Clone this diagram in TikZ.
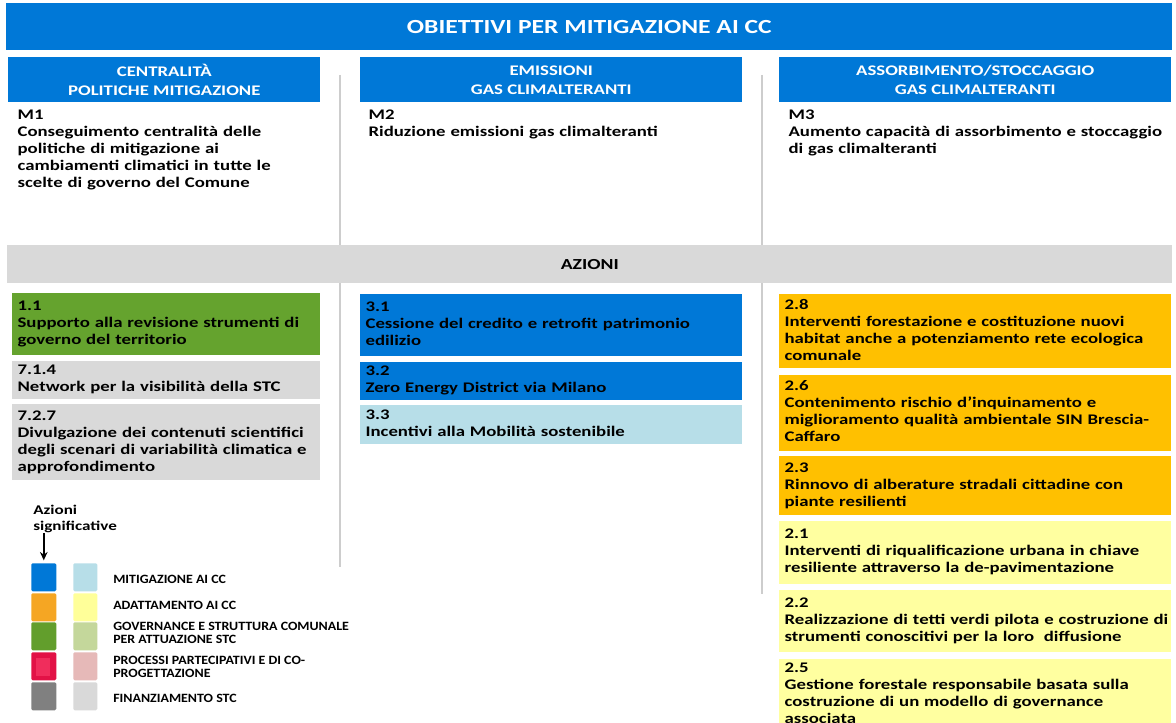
\documentclass[tikz,border=0pt]{standalone}
\usepackage{fontspec}
\setmainfont{Carlito}[FakeStretch=1.28]
\newfontfamily\keyfont{Carlito}[FakeStretch=1.1]
\usepackage{xcolor}
\usetikzlibrary{positioning,arrows.meta}
\definecolor{ccblue}{RGB}{0,120,215}
\definecolor{cclblue}{RGB}{183,222,232}
\definecolor{ccgreen}{RGB}{101,163,46}
\definecolor{ccorange}{RGB}{255,192,0}
\definecolor{cclyellow}{RGB}{255,255,160}
\definecolor{ccgray}{RGB}{217,217,217}
\definecolor{ccline}{RGB}{205,205,205}
\definecolor{keyorange}{RGB}{245,166,35}
\definecolor{keylyellow}{RGB}{255,255,153}
\definecolor{keygreen}{RGB}{98,158,44}
\definecolor{keylgreen}{RGB}{196,215,155}
\definecolor{keyred}{RGB}{226,18,70}
\definecolor{keyredin}{RGB}{240,45,92}
\definecolor{keypink}{RGB}{230,185,184}
\definecolor{keydgray}{RGB}{128,128,128}
\tikzset{
    cctitle/.style={anchor=north west, fill=ccblue, text=white, font=\bfseries\fontsize{15}{18}\selectfont, minimum width=874.5pt, minimum height=35.25pt, inner sep=0pt},
    cchead/.style={anchor=north west, fill=ccblue, text=white, align=center, font=\bfseries\fontsize{11}{14.25}\selectfont, minimum height=33.75pt, inner sep=0pt},
    ccgoal/.style={anchor=north west, align=left, font=\bfseries\fontsize{11}{12.75}\selectfont, inner xsep=4pt, inner ysep=1pt},
    ccbar/.style={anchor=north west, fill=ccgray, font=\bfseries\fontsize{11.5}{14}\selectfont, minimum width=873.75pt, minimum height=28.5pt, inner sep=0pt},
    ccbox/.style={anchor=north west, align=left, font=\bfseries\fontsize{11}{12.75}\selectfont, inner xsep=4pt, inner ysep=1pt},
    colone/.style={ccbox, text width=223pt},
    coltwo/.style={ccbox, text width=278.5pt},
    colthree/.style={ccbox, text width=286pt},
    ccsep/.style={draw=ccline, line width=1.2pt},
    ccdark/.style={anchor=north west, minimum width=18.75pt, minimum height=21pt, inner sep=0pt, rounded corners=1pt},
    cclight/.style={anchor=north west, minimum width=18pt, minimum height=21pt, inner sep=0pt, rounded corners=1pt},
    cckey/.style={anchor=west, align=left, font=\keyfont\bfseries\fontsize{9.5}{9.5}\selectfont, inner sep=0pt},
    cckeyarrow/.style={draw, -{Stealth[length=2.2mm, width=2mm]}, line width=1.1pt, shorten >=2pt}
}

\begin{document}
\begin{tikzpicture}[x=0.75pt, y=-0.75pt]
    \useasboundingbox (0,0) rectangle (1176,723);
    \fill[white] (0,0) rectangle (1176,723);
    \clip (0,0) rectangle (1176,723);

    \draw[ccsep] (340,75) -- (340,567);
    \draw[ccsep] (762,75) -- (762,594);

    \node[cctitle] (title) at (6,3) {OBIETTIVI PER MITIGAZIONE AI CC};
    \node[cchead, minimum width=234pt] (hcent) at (8,57) {CENTRALITÀ\\POLITICHE MITIGAZIONE};
    \node[cchead, minimum width=286.5pt] (hemis) at (360,57) {EMISSIONI\\GAS CLIMALTERANTI};
    \node[cchead, minimum width=294pt] (hass) at (779,57) {ASSORBIMENTO/STOCCAGGIO\\GAS CLIMALTERANTI};

    \node[ccgoal, text width=225pt] (mone) at (12,106) {\strut M1\\Conseguimento centralità delle\\politiche di mitigazione ai\\cambiamenti climatici in tutte le\\scelte di governo del Comune\strut};
    \node[ccgoal, text width=278pt] (mtwo) at (363,106) {\strut M2\\Riduzione emissioni gas climalteranti\strut};
    \node[ccgoal, text width=288pt] (mthree) at (783,106) {\strut M3\\Aumento capacità di assorbimento e stoccaggio\\di gas climalteranti\strut};

    \node[ccbar] (azioni) at (7,245) {AZIONI};

    % colonna centralita
    \node[colone, fill=ccgreen, minimum height=46.5pt] (a11) at (12,293) {\strut 1.1\\Supporto alla revisione strumenti di\\governo del territorio\strut};
    \node[colone, fill=ccgray, minimum height=28.5pt, below=3.75pt of a11] (a714) {\strut 7.1.4\\Network per la visibilità della STC\strut};
    \node[colone, fill=ccgray, minimum height=57pt, below=3.75pt of a714] (a727) {\strut 7.2.7\\Divulgazione dei contenuti scientifici\\degli scenari di variabilità climatica e\\approfondimento\strut};

    % colonna emissioni
    \node[coltwo, fill=ccblue, minimum height=46.5pt] (a31) at (360,294) {\strut 3.1\\Cessione del credito e retrofit patrimonio\\edilizio\strut};
    \node[coltwo, fill=ccblue, minimum height=28.5pt, below=3.75pt of a31] (a32) {\strut 3.2\\Zero Energy District via Milano\strut};
    \node[coltwo, fill=cclblue, minimum height=29.25pt, below=3.75pt of a32] (a33) {\strut 3.3\\Incentivi alla Mobilità sostenibile\strut};

    % colonna assorbimento
    \node[colthree, fill=ccorange, minimum height=55.5pt] (a28) at (779,294) {\strut 2.8\\Interventi forestazione e costituzione nuovi\\habitat anche a potenziamento rete ecologica\\comunale\strut};
    \node[colthree, fill=ccorange, minimum height=57pt, below=4.5pt of a28] (a26) {\strut 2.6\\Contenimento rischio d’inquinamento e\\miglioramento qualità ambientale SIN Brescia-\\Caffaro\strut};
    \node[colthree, fill=ccorange, minimum height=44.25pt, below=3.75pt of a26] (a23) {\strut 2.3\\Rinnovo di alberature stradali cittadine con\\piante resilienti\strut};
    \node[colthree, fill=cclyellow, minimum height=47.25pt, below=3.75pt of a23] (a21) {\strut 2.1\\Interventi di riqualificazione urbana in chiave\\resiliente attraverso la de-pavimentazione\strut};
    \node[colthree, fill=cclyellow, minimum height=46.5pt, below=4.5pt of a21] (a22) {\strut 2.2\\\mbox{Realizzazione di tetti verdi pilota e costruzione di}\\strumenti conoscitivi per la loro\ \ diffusione\strut};
    \node[colthree, fill=cclyellow, below=4.5pt of a22] (a25) {\strut 2.5\\Gestione forestale responsabile basata sulla\\costruzione di un modello di governance\\associata\strut};

    % legenda
    \node[anchor=north west, align=left, inner sep=0pt, font=\bfseries\fontsize{10}{12}\selectfont] (azsig) at (33,505) {Azioni\\significative};
    \node[ccdark, fill=ccblue] (kmit) at (31,563) {};
    \node[ccdark, fill=keyorange] (kada) at (31,593) {};
    \node[ccdark, fill=keygreen] (kgov) at (31,622) {};
    \node[ccdark, fill=keyred] (kpro) at (31,652) {};
    \fill[keyredin] (36,658) rectangle (50,676);
    \node[ccdark, fill=keydgray] (kfin) at (31,682) {};
    \node[cclight, fill=cclblue] (lmit) at (73,563) {};
    \node[cclight, fill=keylyellow] (lada) at (73,593) {};
    \node[cclight, fill=keylgreen] (lgov) at (73,622) {};
    \node[cclight, fill=keypink] (lpro) at (73,652) {};
    \node[cclight, fill=ccgray] (lfin) at (73,682) {};
    \node[cckey] (tmit) at (113,579) {MITIGAZIONE AI CC};
    \node[cckey] (tada) at (113,605) {ADATTAMENTO AI CC};
    \node[cckey] (tgov) at (113,633) {GOVERNANCE E STRUTTURA COMUNALE\\PER ATTUAZIONE STC};
    \node[cckey] (tpro) at (113,667) {PROCESSI PARTECIPATIVI E DI CO-\\PROGETTAZIONE};
    \node[cckey] (tfin) at (113,698) {FINANZIAMENTO STC};

    \draw[cckeyarrow] (kmit.north |- azsig.south) -- (kmit.north);
\end{tikzpicture}
\end{document}
